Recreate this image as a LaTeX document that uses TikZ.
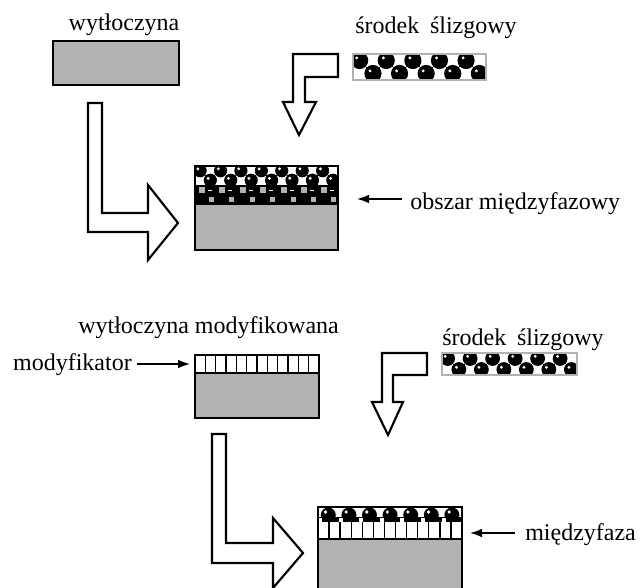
\documentclass[tikz,border=0pt]{standalone}
\usepackage{fontspec}
\setmainfont{Liberation Serif}
\usetikzlibrary{arrows.meta}
\usetikzlibrary{calc}

\colorlet{stipple}{black!30}

% checker of balls: #1 cols, #2 rows, #3 cell width, #4 cell height, #5 ball radius
\newcommand{\ballcheck}[5]{%
  \foreach \i in {1,...,#1}
  \foreach \j in {1,...,#2} {
    \pgfmathtruncatemacro\cellodd{mod(\i+\j,2)}
    \ifnum\cellodd=0
      \fill[black] ({(\i-1)*#3},{(\j-1)*#4}) rectangle +(#3,#4);
      \fill[black] ({(\i-0.5)*#3},{(\j-0.5)*#4}) circle[radius=#5];
      \fill[white] ({(\i-0.5)*#3-0.22*#3},{(\j-0.5)*#4-0.2*#4}) circle[radius=1.6];
    \fi
  }}

\tikzset{
  txt/.style={inner sep=0pt, anchor=base west, font=\fontsize{18}{21}\selectfont},
  blockarrow/.style={draw=black, line width=1.6pt, fill=white, line join=miter},
  layerbox/.style={draw=black, line width=1.2pt},
  pointer/.style={-{Latex[length=9pt,width=6.5pt]}, line width=1.1pt},
}

\begin{document}
\begin{tikzpicture}[x=0.75pt, y=-0.75pt]
\useasboundingbox (0,0) rectangle (640,588);

% ---- upper part ----
\node[txt, anchor=base] (extrudate) at (124,31) {wytłoczyna};
\fill[stipple] (53,41) rectangle (179,85);
\draw[layerbox] (53,41) rectangle (179,85);

\node[txt] (lubricantA) at (355,34) {środek\hspace{0.45em}ślizgowy};
\begin{scope}[shift={(353,54)}]
  \clip (0,0) rectangle (133,26);
  \fill[white] (0,0) rectangle (133,26);
  \ballcheck{10}{2}{13.3}{13}{8.6}
\end{scope}
\draw[stipple, line width=0.8pt] (353,54) rectangle (486,80);

% block arrows
\draw[blockarrow] (88,103) -- (102,103) -- (102,213) -- (148,213) -- (148,185)
  -- (178,223) -- (148,260) -- (148,232) -- (88,232) -- cycle;
\draw[blockarrow] (338,54) -- (338,77) -- (305,77) -- (305,102) -- (316,102)
  -- (299,135) -- (283,102) -- (293,102) -- (293,54) -- cycle;

% layered sample
\begin{scope}[shift={(195,166)}]
  \clip (0,0) rectangle (143,19);
  \fill[white] (0,0) rectangle (143,19);
  \ballcheck{14}{2}{10.21}{9.5}{6.6}
\end{scope}
\begin{scope}[shift={(195,185)}]
  \fill[black] (0,0) rectangle (143,20);
  \foreach \i in {0,1,...,6} {
    \fill[stipple] (\i*20.4+4,2.5) rectangle +(6,6);
    \fill[stipple] (\i*20.4+14,12) rectangle +(5,5);
    \draw[white, line width=0.6pt] (\i*20.4+13,5) -- +(4,0);
  }
\end{scope}
\fill[stipple] (195,205) rectangle (338,250);
\draw[layerbox] (195,166) rectangle (338,250);

\coordinate (interTip) at (357,199);
\node[txt] (interLabel) at (410,210) {obszar międzyfazowy};
\draw[pointer] ($(interLabel.west |- interTip)+(-8,0)$) -- (interTip);

% ---- lower part ----
\node[txt] (modExtrudate) at (78,334) {wytłoczyna modyfikowana};

\fill[white] (195,355) rectangle (319,373);
\foreach \i in {1,...,11}
  \draw[line width=1pt] (195+\i*10.33,355) -- (195+\i*10.33,373);
\fill[stipple] (195,373) rectangle (319,418);
\draw[layerbox] (195,373) -- (319,373);
\draw[layerbox] (195,355) rectangle (319,418);

\coordinate (modTip) at (190,364);
\node[txt, anchor=base east] (modifier) at (132,371) {modyfikator};
\draw[pointer] ($(modifier.east |- modTip)+(5,0)$) -- (modTip);

\node[txt] (lubricantB) at (442,346) {środek\hspace{0.45em}ślizgowy};
\begin{scope}[shift={(442,353)}]
  \clip (0,0) rectangle (135,22);
  \fill[white] (0,0) rectangle (135,22);
  \ballcheck{12}{2}{11.25}{11}{7.4}
\end{scope}
\draw[stipple, line width=0.8pt] (442,353) rectangle (577,375);

% block arrows
\draw[blockarrow] (427,353) -- (427,375) -- (393,375) -- (393,402) -- (403,402)
  -- (388,435) -- (372,402) -- (382,402) -- (382,353) -- cycle;
\draw[blockarrow] (212,434) -- (226,434) -- (226,543) -- (273,543) -- (273,518)
  -- (303,553) -- (273,588) -- (273,563) -- (212,563) -- cycle;

% modified layered sample
\begin{scope}[shift={(318,507)}]
  \clip (0,0) rectangle (144,15);
  \fill[white] (0,0) rectangle (144,15);
  \fill[black] (0,10) rectangle (144,15);
  \foreach \i in {0,1,...,6} {
    \fill[black] (\i*20.6+10.3,8) circle[radius=7.5];
    \fill[white] (\i*20.6+7.5,5) circle[radius=1.8];
    \fill[white] (\i*20.6,11) rectangle +(4,4);
  }
\end{scope}
\fill[white] (318,522) rectangle (462,539);
\foreach \i in {1,...,12}
  \draw[line width=1pt] (318+\i*11.08,522) -- (318+\i*11.08,539);
\fill[stipple] (318,539) rectangle (462,590);
\draw[layerbox] (318,539) -- (462,539);
\draw[layerbox] (318,507) rectangle (462,590);

\coordinate (phaseTip) at (470,533);
\node[txt] (phaseLabel) at (525,540) {międzyfaza};
\draw[pointer] ($(phaseLabel.west |- phaseTip)+(-10,0)$) -- (phaseTip);
\end{tikzpicture}
\end{document}
